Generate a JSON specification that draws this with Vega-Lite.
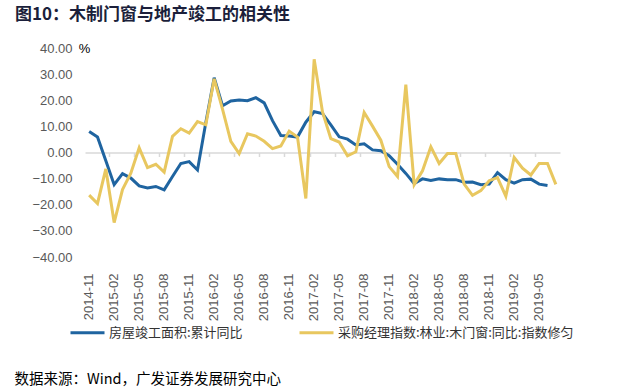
{
  "$schema": "https://vega.github.io/schema/vega-lite/v6.json",
  "width": 475,
  "height": 209,
  "autosize": {"type": "none"},
  "padding": {"left": 85, "top": 48, "right": 67, "bottom": 131},
  "background": "white",
  "config": {"view": {"stroke": null}, "font": "Liberation Sans"},
  "title": {
    "text": "图10：木制门窗与地产竣工的相关性",
    "anchor": "start",
    "frame": "group",
    "dx": -70,
    "offset": 1,
    "baseline": "bottom",
    "font": "Noto Sans CJK SC",
    "fontSize": 17,
    "fontWeight": "bold",
    "color": "#1b1f3b"
  },
  "datasets": {
    "blue": [
      {"month": "2014-11", "value": 8.0}, {"month": "2014-12", "value": 5.9}, {"month": "2015-01", "value": -3.2},
      {"month": "2015-02", "value": -12.3}, {"month": "2015-03", "value": -8.1}, {"month": "2015-04", "value": -9.8},
      {"month": "2015-05", "value": -12.8}, {"month": "2015-06", "value": -13.6}, {"month": "2015-07", "value": -13.0},
      {"month": "2015-08", "value": -14.3}, {"month": "2015-09", "value": -9.2}, {"month": "2015-10", "value": -4.2},
      {"month": "2015-11", "value": -3.5}, {"month": "2015-12", "value": -6.7}, {"month": "2016-01", "value": 11.5},
      {"month": "2016-02", "value": 28.6}, {"month": "2016-03", "value": 17.9}, {"month": "2016-04", "value": 19.7},
      {"month": "2016-05", "value": 20.1}, {"month": "2016-06", "value": 19.8}, {"month": "2016-07", "value": 21.0},
      {"month": "2016-08", "value": 19.0}, {"month": "2016-09", "value": 12.2}, {"month": "2016-10", "value": 6.5},
      {"month": "2016-11", "value": 6.3}, {"month": "2016-12", "value": 5.9}, {"month": "2017-01", "value": 11.6},
      {"month": "2017-02", "value": 15.6}, {"month": "2017-03", "value": 14.9}, {"month": "2017-04", "value": 10.6},
      {"month": "2017-05", "value": 6.0}, {"month": "2017-06", "value": 5.1}, {"month": "2017-07", "value": 2.9},
      {"month": "2017-08", "value": 3.3}, {"month": "2017-09", "value": 1.0}, {"month": "2017-10", "value": 0.7},
      {"month": "2017-11", "value": -1.2}, {"month": "2017-12", "value": -4.5}, {"month": "2018-01", "value": -8.0},
      {"month": "2018-02", "value": -11.9}, {"month": "2018-03", "value": -10.1}, {"month": "2018-04", "value": -10.7},
      {"month": "2018-05", "value": -10.1}, {"month": "2018-06", "value": -10.4}, {"month": "2018-07", "value": -10.4},
      {"month": "2018-08", "value": -11.4}, {"month": "2018-09", "value": -11.3}, {"month": "2018-10", "value": -12.3},
      {"month": "2018-11", "value": -12.1}, {"month": "2018-12", "value": -7.7}, {"month": "2019-01", "value": -10.4},
      {"month": "2019-02", "value": -11.7}, {"month": "2019-03", "value": -10.4}, {"month": "2019-04", "value": -10.2},
      {"month": "2019-05", "value": -12.1}, {"month": "2019-06", "value": -12.6}
    ],
    "yellow": [
      {"month": "2014-11", "value": -16.3}, {"month": "2014-12", "value": -19.5}, {"month": "2015-01", "value": -6.3},
      {"month": "2015-02", "value": -26.8}, {"month": "2015-03", "value": -14.2}, {"month": "2015-04", "value": -7.9},
      {"month": "2015-05", "value": 1.8}, {"month": "2015-06", "value": -5.8}, {"month": "2015-07", "value": -4.5},
      {"month": "2015-08", "value": -7.5}, {"month": "2015-09", "value": 6.2}, {"month": "2015-10", "value": 9.1},
      {"month": "2015-11", "value": 7.4}, {"month": "2015-12", "value": 11.8}, {"month": "2016-01", "value": 10.6},
      {"month": "2016-02", "value": 28.2}, {"month": "2016-03", "value": 16.6}, {"month": "2016-04", "value": 4.3},
      {"month": "2016-05", "value": -0.4}, {"month": "2016-06", "value": 7.2}, {"month": "2016-07", "value": 6.3},
      {"month": "2016-08", "value": 4.3}, {"month": "2016-09", "value": 1.5}, {"month": "2016-10", "value": 2.5},
      {"month": "2016-11", "value": 8.2}, {"month": "2016-12", "value": 5.9}, {"month": "2017-01", "value": -17.6},
      {"month": "2017-02", "value": 35.7}, {"month": "2017-03", "value": 15.5}, {"month": "2017-04", "value": 5.3},
      {"month": "2017-05", "value": 4.0}, {"month": "2017-06", "value": -1.3}, {"month": "2017-07", "value": 0.3},
      {"month": "2017-08", "value": 15.3}, {"month": "2017-09", "value": 10.1}, {"month": "2017-10", "value": 4.7},
      {"month": "2017-11", "value": -5.4}, {"month": "2017-12", "value": -9.2}, {"month": "2018-01", "value": 26.0},
      {"month": "2018-02", "value": -12.3}, {"month": "2018-03", "value": -7.0}, {"month": "2018-04", "value": 2.2},
      {"month": "2018-05", "value": -4.2}, {"month": "2018-06", "value": -0.4}, {"month": "2018-07", "value": -0.4},
      {"month": "2018-08", "value": -12.1}, {"month": "2018-09", "value": -16.4}, {"month": "2018-10", "value": -14.6},
      {"month": "2018-11", "value": -10.8}, {"month": "2018-12", "value": -9.6}, {"month": "2019-01", "value": -16.7},
      {"month": "2019-02", "value": -1.9}, {"month": "2019-03", "value": -6.0}, {"month": "2019-04", "value": -8.6},
      {"month": "2019-05", "value": -4.2}, {"month": "2019-06", "value": -4.2}, {"month": "2019-07", "value": -12.2}
    ]
  },
  "encoding": {
    "y": {
      "field": "value",
      "type": "quantitative",
      "scale": {"domain": [-40, 40], "nice": false, "zero": false},
      "axis": {
        "values": [-40, -30, -20, -10, 0, 10, 20, 30, 40],
        "format": ".2f",
        "domain": false,
        "ticks": false,
        "grid": false,
        "labelColor": "#595959",
        "labelFontSize": 13,
        "labelPadding": 13,
        "title": "%",
        "titleAngle": 0,
        "titleX": -1,
        "titleY": 0,
        "titleAlign": "center",
        "titleBaseline": "middle",
        "titleFontWeight": "normal",
        "titleFontSize": 13,
        "titleColor": "#000000"
      }
    },
    "color": {
      "field": "series",
      "type": "nominal",
      "scale": {
        "domain": ["房屋竣工面积:累计同比", "采购经理指数:林业:木门窗:同比:指数修匀"],
        "range": ["#1F64A0", "#E8C75F"]
      },
      "legend": {
        "orient": "none",
        "legendX": -16,
        "legendY": 266,
        "direction": "horizontal",
        "title": null,
        "symbolType": "stroke",
        "symbolSize": 1156,
        "symbolStrokeWidth": 3,
        "labelFont": "Noto Sans CJK SC",
        "labelFontSize": 13,
        "labelColor": "#333333",
        "labelLimit": 400,
        "labelOffset": 3,
        "columnPadding": 50
      }
    }
  },
  "layer": [
    {
      "data": {"name": "blue"},
      "transform": [{"calculate": "'房屋竣工面积:累计同比'", "as": "series"}],
      "mark": {"type": "line", "strokeWidth": 3},
      "encoding": {
        "x": {
          "field": "month",
          "type": "ordinal",
          "bandPosition": 0.5,
          "scale": {"type": "band", "paddingInner": 0, "paddingOuter": 0},
          "axis": {
            "orient": "bottom",
            "labelExpr": "toNumber(slice(datum.label, 5)) % 3 == 2 ? datum.label : ''",
            "labelAngle": -90,
            "labelOverlap": false,
            "labelBound": false,
            "labelFlush": false,
            "domain": false,
            "ticks": false,
            "grid": false,
            "labelColor": "#595959",
            "labelFontSize": 13,
            "labelPadding": 16,
            "title": "数据来源：Wind，广发证券发展研究中心",
            "titleX": -71,
            "titleY": 122,
            "titleAlign": "left",
            "titleBaseline": "middle",
            "titleFont": "Noto Sans CJK SC",
            "titleFontSize": 14.5,
            "titleFontWeight": "normal",
            "titleColor": "#000000"
          }
        }
      }
    },
    {
      "data": {"name": "yellow"},
      "transform": [{"calculate": "'采购经理指数:林业:木门窗:同比:指数修匀'", "as": "series"}],
      "mark": {"type": "line", "strokeWidth": 3},
      "encoding": {
        "x": {
          "field": "month",
          "type": "ordinal",
          "bandPosition": 0.5,
          "scale": {"type": "band", "paddingInner": 0, "paddingOuter": 0},
          "axis": {
            "orient": "bottom",
            "offset": -104.5,
            "values": ["2014-11","2015-02","2015-05","2015-08","2015-11","2016-02","2016-05","2016-08","2016-11","2017-02","2017-05","2017-08","2017-11","2018-02","2018-05","2018-08","2018-11","2019-02","2019-05"],
            "bandPosition": 0,
            "labels": false,
            "title": null,
            "domain": true,
            "domainColor": "#D9D9D9",
            "domainWidth": 1.5,
            "ticks": true,
            "tickColor": "#D9D9D9",
            "tickSize": 4,
            "tickWidth": 1.5,
            "grid": false
          }
        }
      }
    }
  ],
  "resolve": {"axis": {"x": "independent"}}
}
